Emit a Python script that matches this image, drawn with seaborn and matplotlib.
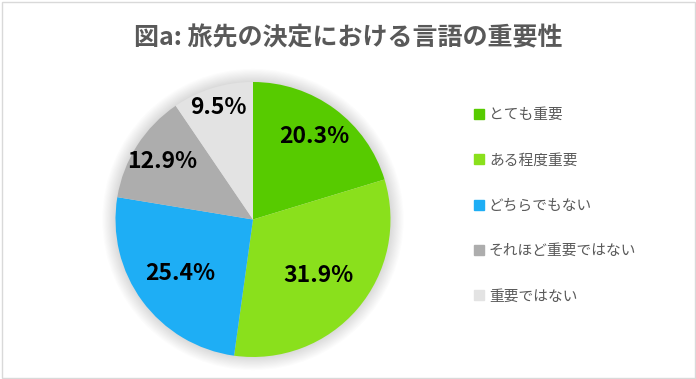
import matplotlib
matplotlib.use("Agg")
import matplotlib.pyplot as plt
import seaborn as sns
import numpy as np
from matplotlib.lines import Line2D
from matplotlib.patches import FancyBboxPatch, Circle

sns.set_style("white")
plt.rcParams['font.family'] = ['Noto Sans CJK JP', 'DejaVu Sans']

title = "図a: 旅先の決定における言語の重要性"
categories = ["とても重要", "ある程度重要", "どちらでもない", "それほど重要ではない", "重要ではない"]
values = [20.3, 31.9, 25.4, 12.9, 9.5]
colors = sns.color_palette(["#57CB00", "#8AE01C", "#1EAEF5", "#ADADAD", "#E3E3E3"])
label_radius = [0.75, 0.63, 0.66, 0.78, 0.85]

W, H = 696, 379
fig = plt.figure(figsize=(W / 100, H / 100), dpi=100)
fig.patch.set_facecolor("white")

# border
fig.patches.append(FancyBboxPatch((1.5 / W, 1.5 / H), (W - 3) / W, (H - 3) / H,
                                  boxstyle="square,pad=0", transform=fig.transFigure,
                                  fill=False, edgecolor="#D9D9D9", linewidth=1.0))

cx, cy, r = 253, 219.5, 137.5
ax = fig.add_axes([(cx - r) / W, (H - cy - r) / H, 2 * r / W, 2 * r / H])
# soft glow behind the pie
for k in range(12):
    rr = 1.0 + 0.008 * (k + 1)
    ax.add_patch(Circle((0.0, -0.0), rr, facecolor="black", edgecolor="none",
                        alpha=0.012, zorder=0, clip_on=False))
wedges, texts = ax.pie(values, colors=colors, startangle=90, counterclock=False,
                       radius=1.0, wedgeprops=dict(linewidth=0, zorder=2))
ax.set_xlim(-1, 1)
ax.set_ylim(-1, 1)
ax.axis("off")

for w, v, rf in zip(wedges, values, label_radius):
    ang = np.deg2rad((w.theta1 + w.theta2) / 2)
    ax.text(rf * np.cos(ang), rf * np.sin(ang), f"{v:.1f}%", ha="center", va="center",
            fontsize=16.5, fontweight="bold", color="black", zorder=3)

fig.text(348 / W, 1 - 38 / H, title, ha="center", va="center", fontsize=18,
         fontweight="bold", color="#595959")

handles = [Line2D([0], [0], marker="s", linestyle="none", markersize=7.2,
                  markerfacecolor=c, markeredgecolor=c) for c in colors]
leg = fig.legend(handles, categories, loc="upper left", bbox_to_anchor=(472 / W, 1 - 108 / H),
                 frameon=False, fontsize=10.6, labelspacing=2.13, handletextpad=0.15,
                 handlelength=1.0, borderaxespad=0, borderpad=0)
for t in leg.get_texts():
    t.set_color("#595959")

fig.savefig("out.png", dpi=100)
